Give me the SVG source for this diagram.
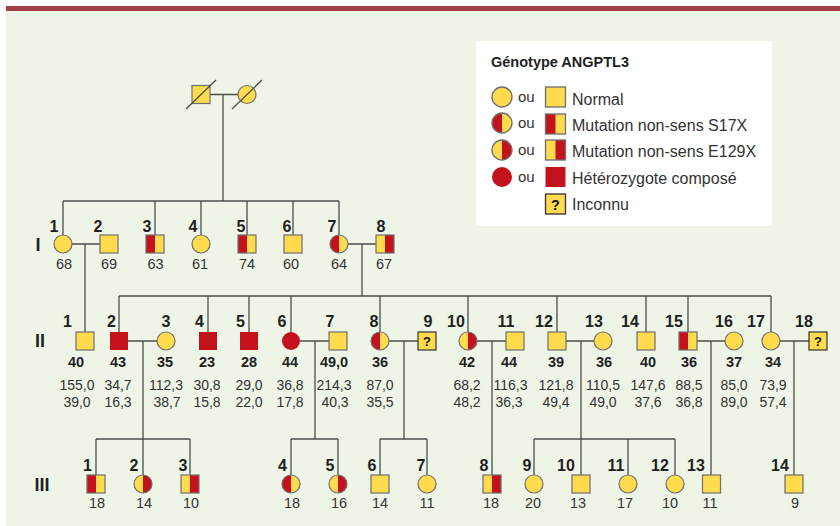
<svg xmlns="http://www.w3.org/2000/svg" xmlns:xlink="http://www.w3.org/1999/xlink" width="840" height="526" viewBox="0 0 840 526">
<style>
.bg{fill:#EEF4E6}
.bar{fill:#A03F4A}
.ln{fill:none;stroke:#4d4d4d;stroke-width:1.3}
.ye{fill:#FFDB4D}
.rd{fill:#C3121C}
.ol{fill:none;stroke:#6f6f6f;stroke-width:1.2}
text{font-family:"Liberation Sans",Arial,sans-serif;fill:#1f1f1f}
.lab{font-size:16px;font-weight:bold;text-anchor:middle}
.age{font-size:14.5px;text-anchor:middle;fill:#333}
.ageb{font-size:14.5px;font-weight:bold;text-anchor:middle}
.val{font-size:14px;text-anchor:middle;fill:#333}
.gen{font-size:18px;font-weight:bold;text-anchor:middle}
.leg{font-size:16px;fill:#333}
.ou{font-size:15px;fill:#333}
.ttl{font-size:14.5px;font-weight:bold}
.q{font-size:13px;font-weight:bold;text-anchor:middle;fill:#111}
</style>
<defs>
<g id="cN"><circle r="9" class="ye"/><circle r="9" class="ol"/></g>
<g id="cS"><circle r="9" class="ye"/><path d="M0,-9A9,9 0 0 0 0,9Z" class="rd"/><circle r="9" class="ol"/></g>
<g id="cE"><circle r="9" class="ye"/><path d="M0,-9A9,9 0 0 1 0,9Z" class="rd"/><circle r="9" class="ol"/></g>
<g id="cH"><circle r="9" class="rd"/></g>
<g id="sN"><rect x="-9" y="-9" width="18" height="18" class="ye"/><rect x="-9" y="-9" width="18" height="18" class="ol"/></g>
<g id="sS"><rect x="-9" y="-9" width="18" height="18" class="ye"/><rect x="-9" y="-9" width="9" height="18" class="rd"/><rect x="-9" y="-9" width="18" height="18" class="ol"/></g>
<g id="sE"><rect x="-9" y="-9" width="18" height="18" class="ye"/><rect x="0" y="-9" width="9" height="18" class="rd"/><rect x="-9" y="-9" width="18" height="18" class="ol"/></g>
<g id="sH"><rect x="-9" y="-9" width="18" height="18" class="rd"/></g>
<g id="sU"><rect x="-9" y="-9" width="18" height="18" class="ye"/><rect x="-9" y="-9" width="18" height="18" fill="none" stroke="#333" stroke-width="1.2"/><text y="5" class="q">?</text></g>
</defs>

<rect x="6" y="11" width="834" height="515" class="bg"/>
<rect x="6" y="6" width="834" height="5" class="bar"/>

<!-- connectors -->
<g id="connectors" class="ln">
<path d="M210,94.5H238M223,94.5V201M63,201H339M63,201V235M155,201V235M201,201V235M247,201V235M293,201V235M339,201V235"/>
<path d="M72,244H100M85,244V332M348,244H376M362,244V296M119,296H771"/>
<path d="M119,296V332M208,296V332M249,296V332M291,296V332M380,296V332M468,296V332M557,296V332M646,296V332M688,296V332M771,296V332"/>
<path d="M128,341H157M300,341H329M389,341H418M477,341H506M566,341H594M697,341H725M780,341H809"/>
<path d="M143,341V475M96,439H190M96,439V475M190,439V475"/>
<path d="M315,341V439M291,439H338M291,439V475M338,439V475"/>
<path d="M404,341V439M380,439H427M380,439V475M427,439V475"/>
<path d="M492,341V475M581,341V475M534,439H675M534,439V475M628,439V475M675,439V475M711,341V475M794,341V475"/>
</g>

<!-- generation 0 -->
<g id="g0-1"><use href="#sN" x="201" y="94.5"/><path d="M186,109L216,80" class="ln"/></g>
<g id="g0-2"><use href="#cN" x="247" y="94.5"/><path d="M232,109L262,80" class="ln"/></g>

<!-- generation I -->
<text x="38" y="251" class="gen">I</text>
<g id="I-1"><use href="#cN" x="63" y="244"/><text x="54" y="232" class="lab">1</text><text x="64" y="269" class="age">68</text></g>
<g id="I-2"><use href="#sN" x="109" y="244"/><text x="98" y="232" class="lab">2</text><text x="109" y="269" class="age">69</text></g>
<g id="I-3"><use href="#sS" x="155" y="244"/><text x="147" y="232" class="lab">3</text><text x="155.5" y="269" class="age">63</text></g>
<g id="I-4"><use href="#cN" x="201" y="244"/><text x="193" y="232" class="lab">4</text><text x="200" y="269" class="age">61</text></g>
<g id="I-5"><use href="#sS" x="247" y="244"/><text x="241" y="232" class="lab">5</text><text x="247" y="269" class="age">74</text></g>
<g id="I-6"><use href="#sN" x="293" y="244"/><text x="287" y="232" class="lab">6</text><text x="291" y="269" class="age">60</text></g>
<g id="I-7"><use href="#cS" x="339" y="244"/><text x="332" y="232" class="lab">7</text><text x="339" y="269" class="age">64</text></g>
<g id="I-8"><use href="#sE" x="385" y="244"/><text x="381" y="232" class="lab">8</text><text x="384" y="269" class="age">67</text></g>

<!-- generation II -->
<text x="40" y="347" class="gen">II</text>
<g id="II-1"><use href="#sN" x="85" y="341"/><text x="67.5" y="327" class="lab">1</text><text x="76" y="367" class="ageb">40</text><text x="77" y="390" class="val">155,0</text><text x="77" y="407" class="val">39,0</text></g>
<g id="II-2"><use href="#sH" x="119" y="341"/><text x="111.5" y="327" class="lab">2</text><text x="118" y="367" class="ageb">43</text><text x="118" y="390" class="val">34,7</text><text x="118" y="407" class="val">16,3</text></g>
<g id="II-3"><use href="#cN" x="166" y="341"/><text x="166" y="327" class="lab">3</text><text x="165" y="367" class="ageb">35</text><text x="166" y="390" class="val">112,3</text><text x="167" y="407" class="val">38,7</text></g>
<g id="II-4"><use href="#sH" x="208" y="341"/><text x="199.5" y="327" class="lab">4</text><text x="207" y="367" class="ageb">23</text><text x="207" y="390" class="val">30,8</text><text x="207" y="407" class="val">15,8</text></g>
<g id="II-5"><use href="#sH" x="249" y="341"/><text x="240.5" y="327" class="lab">5</text><text x="249" y="367" class="ageb">28</text><text x="249" y="390" class="val">29,0</text><text x="249" y="407" class="val">22,0</text></g>
<g id="II-6"><use href="#cH" x="291" y="341"/><text x="282" y="327" class="lab">6</text><text x="290" y="367" class="ageb">44</text><text x="290" y="390" class="val">36,8</text><text x="290" y="407" class="val">17,8</text></g>
<g id="II-7"><use href="#sN" x="338" y="341"/><text x="330" y="327" class="lab">7</text><text x="334" y="367" class="ageb">49,0</text><text x="334" y="390" class="val">214,3</text><text x="335" y="407" class="val">40,3</text></g>
<g id="II-8"><use href="#cS" x="380" y="341"/><text x="374" y="327" class="lab">8</text><text x="380" y="367" class="ageb">36</text><text x="380" y="390" class="val">87,0</text><text x="380" y="407" class="val">35,5</text></g>
<g id="II-9"><use href="#sU" x="427" y="341"/><text x="428" y="327" class="lab">9</text></g>
<g id="II-10"><use href="#cE" x="468" y="341"/><text x="456" y="327" class="lab">10</text><text x="467" y="367" class="ageb">42</text><text x="467" y="390" class="val">68,2</text><text x="467" y="407" class="val">48,2</text></g>
<g id="II-11"><use href="#sN" x="515" y="341"/><text x="506" y="327" class="lab">11</text><text x="509" y="367" class="ageb">44</text><text x="510.5" y="390" class="val">116,3</text><text x="509" y="407" class="val">36,3</text></g>
<g id="II-12"><use href="#sN" x="557" y="341"/><text x="544" y="327" class="lab">12</text><text x="556" y="367" class="ageb">39</text><text x="556" y="390" class="val">121,8</text><text x="556" y="407" class="val">49,4</text></g>
<g id="II-13"><use href="#cN" x="603" y="341"/><text x="594" y="327" class="lab">13</text><text x="604" y="367" class="ageb">36</text><text x="603" y="390" class="val">110,5</text><text x="603" y="407" class="val">49,0</text></g>
<g id="II-14"><use href="#sN" x="646" y="341"/><text x="630" y="327" class="lab">14</text><text x="648" y="367" class="ageb">40</text><text x="648" y="390" class="val">147,6</text><text x="648" y="407" class="val">37,6</text></g>
<g id="II-15"><use href="#sS" x="688" y="341"/><text x="674" y="327" class="lab">15</text><text x="689" y="367" class="ageb">36</text><text x="689" y="390" class="val">88,5</text><text x="689" y="407" class="val">36,8</text></g>
<g id="II-16"><use href="#cN" x="734" y="341"/><text x="724" y="327" class="lab">16</text><text x="734" y="367" class="ageb">37</text><text x="734" y="390" class="val">85,0</text><text x="734" y="407" class="val">89,0</text></g>
<g id="II-17"><use href="#cN" x="771" y="341"/><text x="756" y="327" class="lab">17</text><text x="773" y="367" class="ageb">34</text><text x="773" y="390" class="val">73,9</text><text x="773" y="407" class="val">57,4</text></g>
<g id="II-18"><use href="#sU" x="818" y="341"/><text x="804" y="327" class="lab">18</text></g>

<!-- generation III -->
<text x="42" y="491" class="gen">III</text>
<g id="III-1"><use href="#sS" x="96" y="484"/><text x="87.5" y="471" class="lab">1</text><text x="97" y="508" class="age">18</text></g>
<g id="III-2"><use href="#cE" x="143" y="484"/><text x="134" y="471" class="lab">2</text><text x="144" y="508" class="age">14</text></g>
<g id="III-3"><use href="#sE" x="190" y="484"/><text x="183" y="471" class="lab">3</text><text x="191" y="508" class="age">10</text></g>
<g id="III-4"><use href="#cS" x="291" y="484"/><text x="282.5" y="471" class="lab">4</text><text x="292" y="508" class="age">18</text></g>
<g id="III-5"><use href="#cE" x="338" y="484"/><text x="330" y="471" class="lab">5</text><text x="339" y="508" class="age">16</text></g>
<g id="III-6"><use href="#sN" x="380" y="484"/><text x="372" y="471" class="lab">6</text><text x="380" y="508" class="age">14</text></g>
<g id="III-7"><use href="#cN" x="427" y="484"/><text x="421" y="471" class="lab">7</text><text x="427" y="508" class="age">11</text></g>
<g id="III-8"><use href="#sE" x="492" y="484"/><text x="484" y="471" class="lab">8</text><text x="491" y="508" class="age">18</text></g>
<g id="III-9"><use href="#cN" x="534" y="484"/><text x="527" y="471" class="lab">9</text><text x="533" y="508" class="age">20</text></g>
<g id="III-10"><use href="#sN" x="581" y="484"/><text x="566" y="471" class="lab">10</text><text x="578" y="508" class="age">13</text></g>
<g id="III-11"><use href="#cN" x="628" y="484"/><text x="616" y="471" class="lab">11</text><text x="625" y="508" class="age">17</text></g>
<g id="III-12"><use href="#cN" x="675" y="484"/><text x="660" y="471" class="lab">12</text><text x="670" y="508" class="age">10</text></g>
<g id="III-13"><use href="#sN" x="711.5" y="484"/><text x="696" y="471" class="lab">13</text><text x="710" y="508" class="age">11</text></g>
<g id="III-14"><use href="#sN" x="794" y="484"/><text x="780" y="471" class="lab">14</text><text x="795" y="508" class="age">9</text></g>

<!-- legend -->
<g id="legend">
<rect x="476" y="41" width="296" height="185" fill="#ffffff"/>
<text x="491" y="67" class="ttl">Génotype ANGPTL3</text>
<use href="#cN" transform="translate(502,97) scale(1.11)"/>
<use href="#cS" transform="translate(502,123) scale(1.11)"/>
<use href="#cE" transform="translate(502,150) scale(1.11)"/>
<use href="#cH" transform="translate(502,177) scale(1.11)"/>
<text x="518" y="102" class="ou">ou</text>
<text x="518" y="128" class="ou">ou</text>
<text x="518" y="155" class="ou">ou</text>
<text x="518" y="182" class="ou">ou</text>
<use href="#sN" transform="translate(555.5,97) scale(1.11)"/>
<use href="#sS" transform="translate(555.5,124) scale(1.11)"/>
<use href="#sE" transform="translate(555.5,150) scale(1.11)"/>
<use href="#sH" transform="translate(555.5,177) scale(1.11)"/>
<use href="#sU" transform="translate(555.5,204) scale(1.11)"/>
<text x="572" y="105" class="leg">Normal</text>
<text x="572" y="131" class="leg">Mutation non-sens S17X</text>
<text x="572" y="157" class="leg">Mutation non-sens E129X</text>
<text x="572" y="184" class="leg">Hétérozygote composé</text>
<text x="572" y="210" class="leg">Inconnu</text>
</g>
</svg>
